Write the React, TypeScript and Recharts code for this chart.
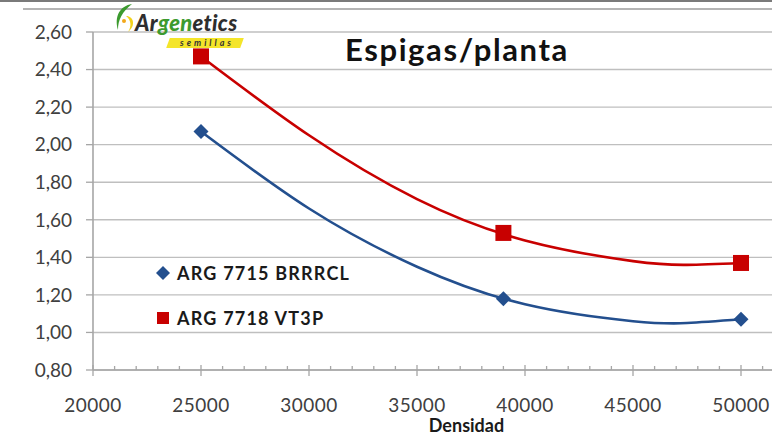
import React from "react";
import {
  ComposedChart,
  Line,
  Scatter,
  XAxis,
  YAxis,
  CartesianGrid,
} from "recharts";

// measured points (Densidad vs espigas/planta)
const densidad = [25000, 39000, 50000];
const arg7715 = [2.07, 1.18, 1.07];
const arg7718 = [2.47, 1.53, 1.37];

// polynomial trend lines
const trendX = [25000, 30000, 35000, 40000, 45000, 47500, 50000];
const trend7715 = [2.07, 1.66, 1.35, 1.15, 1.06, 1.05, 1.07];
const trend7718 = [2.47, 2.05, 1.71, 1.49, 1.38, 1.36, 1.37];

const seriesNames = ["ARG 7715 BRRRCL", "ARG 7718 VT3P"];
const xTicks = [
  20000, 21000, 22000, 23000, 24000, 25000, 26000, 27000, 28000, 29000, 30000,
  31000, 32000, 33000, 34000, 35000, 36000, 37000, 38000, 39000, 40000, 41000,
  42000, 43000, 44000, 45000, 46000, 47000, 48000, 49000, 50000, 51000,
];
const yTicks = [0.8, 1.0, 1.2, 1.4, 1.6, 1.8, 2.0, 2.2, 2.4, 2.6];

const BLUE = "#234F8E";
const RED = "#C80000";
const GRID = "#BFBFBF";
const AXIS = "#A6A6A6";
const FONT = "Lato, 'Open Sans', sans-serif";

const pts7715 = densidad.map((x, i) => ({ x, y: arg7715[i] }));
const pts7718 = densidad.map((x, i) => ({ x, y: arg7718[i] }));
const tr7715 = trendX.map((x, i) => ({ x, y: trend7715[i] }));
const tr7718 = trendX.map((x, i) => ({ x, y: trend7718[i] }));

const Diamond = (props: any) => {
  const { cx, cy } = props;
  const r = 7.5;
  return (
    <polygon
      points={`${cx},${cy - r} ${cx + r},${cy} ${cx},${cy + r} ${cx - r},${cy}`}
      fill={BLUE}
    />
  );
};

const Square = (props: any) => {
  const { cx, cy } = props;
  const r = 8;
  return <rect x={cx - r} y={cy - r} width={2 * r} height={2 * r} fill={RED} />;
};

const XTick = (props: any) => {
  const { x, y, payload } = props;
  const v = payload.value as number;
  const major = v % 5000 === 0;
  return (
    <g>
      <line
        x1={x}
        x2={x}
        y1={major ? y - 5 : y - 4}
        y2={major ? y + 6 : y}
        stroke={AXIS}
        strokeWidth={1.3}
      />
      {major && (
        <text
          x={x}
          y={y + 37}
          textAnchor="middle"
          dominantBaseline="middle"
          fill="#404040"
          fontSize={19}
          letterSpacing={0.5}
          fontFamily={FONT}
        >
          {v}
        </text>
      )}
    </g>
  );
};

const LegendBox = () => (
  <div
    style={{
      position: "absolute",
      left: 155,
      top: 250,
      width: 260,
      fontFamily: FONT,
    }}
  >
    {seriesNames.map((name, i) => (
      <div
        key={name}
        style={{
          display: "flex",
          alignItems: "center",
          height: 45,
          fontWeight: 700,
          fontSize: 18,
          color: "#1a1a1a",
          letterSpacing: 1.2,
        }}
      >
        <svg width={22} height={18}>
          {i === 0 ? (
            <polygon points="8,2 15,9 8,16 1,9" fill={BLUE} />
          ) : (
            <rect x={2} y={3} width={12} height={12} fill={RED} />
          )}
        </svg>
        {name}
      </div>
    ))}
  </div>
);

const Logo = () => (
  <div style={{ position: "absolute", left: 110, top: 2, width: 140, height: 46 }}>
    <svg width={28} height={32} style={{ position: "absolute", left: 2, top: 0 }}>
      <path d="M20 2 C8 4 2 14 6 28 C6 18 10 10 20 2 Z" fill="#3C9A2E" />
      <path d="M14 14 C22 14 24 24 16 30 C20 24 19 18 14 14 Z" fill="#F2D21B" />
      <circle cx={12} cy={19} r={2} fill="#F2A81B" />
    </svg>
    <div
      style={{
        position: "absolute",
        left: 25,
        top: 8,
        fontFamily: FONT,
        fontStyle: "italic",
        fontWeight: 900,
        fontSize: 22,
        lineHeight: "26px",
        color: "#2e2e2e",
        letterSpacing: 0.3,
        whiteSpace: "nowrap",
      }}
    >
      Ar<span style={{ color: "#3C9A2E" }}>gen</span>etics
    </div>
    <div
      style={{
        position: "absolute",
        left: 58,
        top: 36,
        width: 74,
        height: 10,
        background: "#F4E52A",
        transform: "skewX(-20deg)",
      }}
    />
    <div
      style={{
        position: "absolute",
        left: 62,
        top: 36,
        width: 70,
        height: 10,
        lineHeight: "10px",
        textAlign: "center",
        fontFamily: FONT,
        fontStyle: "italic",
        fontWeight: 700,
        fontSize: 9,
        letterSpacing: 3,
        color: "#333",
      }}
    >
      semillas
    </div>
  </div>
);

export default function App() {
  return (
    <div
      style={{
        position: "absolute",
        left: 0,
        top: 0,
        width: 772,
        height: 439,
        background: "#fff",
        overflow: "hidden",
        fontFamily: FONT,
      }}
    >
      <div style={{ position: "absolute", left: 0, top: 0, width: 772, height: 2, background: "#7a7a7a" }} />
      <div style={{ position: "absolute", left: 23, top: 8, width: 749, height: 1.5, background: "#B4B4B4" }} />
      <ComposedChart
        width={772}
        height={439}
        margin={{ top: 32, right: 0, bottom: 19, left: 0 }}
      >
        <CartesianGrid vertical={false} stroke={GRID} strokeWidth={1.4} />
        <XAxis
          type="number"
          dataKey="x"
          domain={[20000, 51435]}
          ticks={xTicks}
          interval={0}
          allowDataOverflow
          height={50}
          tickSize={0}
          tickMargin={0}
          tickLine={false}
          tick={<XTick />}
          axisLine={{ stroke: AXIS, strokeWidth: 1.4 }}
          label={{
            value: "Densidad",
            position: "insideBottom",
            offset: -12,
            dx: 34,
            fill: "#1a1a1a",
            fontSize: 18,
            fontWeight: 700,
            fontFamily: FONT,
          }}
        />
        <YAxis
          type="number"
          width={93}
          domain={[0.8, 2.6]}
          ticks={yTicks}
          interval={0}
          allowDataOverflow
          tickSize={7}
          tickMargin={14}
          tickFormatter={(v: number) => v.toFixed(2).replace(".", ",")}
          tick={{ fill: "#404040", fontSize: 19, fontFamily: FONT }}
          tickLine={{ stroke: AXIS, strokeWidth: 1.3 }}
          axisLine={{ stroke: AXIS, strokeWidth: 1.6 }}
        />
        <Line
          data={tr7715}
          dataKey="y"
          type="natural"
          stroke={BLUE}
          strokeWidth={2.6}
          dot={false}
          activeDot={false}
          legendType="none"
          isAnimationActive={false}
        />
        <Line
          data={tr7718}
          dataKey="y"
          type="natural"
          stroke={RED}
          strokeWidth={2.6}
          dot={false}
          activeDot={false}
          legendType="none"
          isAnimationActive={false}
        />
        <Scatter
          name={seriesNames[0]}
          data={pts7715}
          dataKey="y"
          shape={<Diamond />}
          isAnimationActive={false}
        />
        <Scatter
          name={seriesNames[1]}
          data={pts7718}
          dataKey="y"
          shape={<Square />}
          isAnimationActive={false}
        />
      </ComposedChart>
      <LegendBox />
      <div
        style={{
          position: "absolute",
          left: 345,
          top: 30,
          fontFamily: FONT,
          fontWeight: 700,
          fontSize: 31,
          letterSpacing: 1.6,
          color: "#111",
          whiteSpace: "nowrap",
        }}
      >
        Espigas/planta
      </div>
      <Logo />
    </div>
  );
}
